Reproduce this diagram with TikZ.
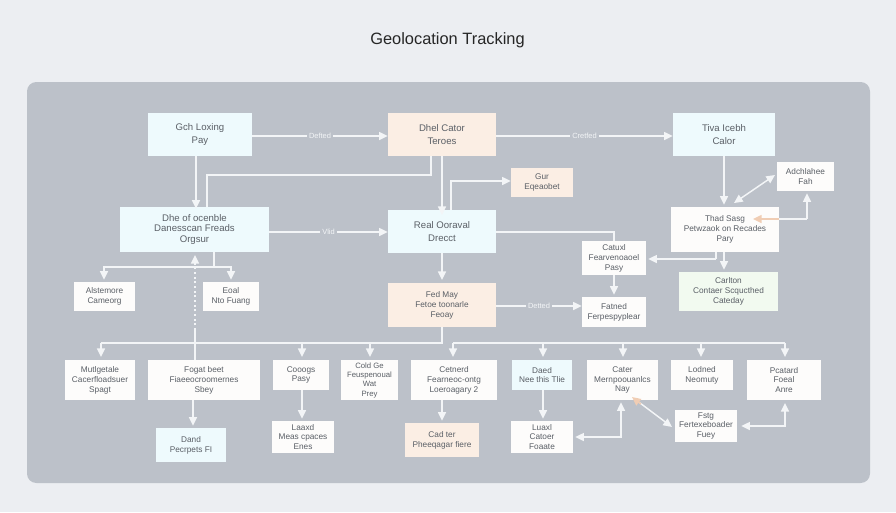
\documentclass[tikz,border=0pt]{standalone}
\usepackage{fontspec}
\setmainfont{Liberation Sans}
\usetikzlibrary{arrows.meta,calc}
\definecolor{pagebg}{HTML}{ECEEF2}
\definecolor{panelbg}{HTML}{BCC1C9}
\definecolor{cyanbox}{HTML}{EEFAFD}
\definecolor{peachbox}{HTML}{FBEEE4}
\definecolor{whitebox}{HTML}{FDFCFB}
\definecolor{greenbox}{HTML}{F2FAF0}
\definecolor{linecol}{HTML}{F3F5F7}
\definecolor{tipcol}{HTML}{F0CDB4}
\definecolor{inkcol}{HTML}{5A5F66}
\tikzset{
  boxbase/.style={inner sep=0pt,align=center,text=inkcol,font=\fontsize{6.2}{7.4}\selectfont},
  big/.style={font=\fontsize{7.2}{9.8}\selectfont},
  bigtight/.style={font=\fontsize{7.2}{7.8}\selectfont},
  cyanb/.style={boxbase,fill=cyanbox},
  peachb/.style={boxbase,fill=peachbox},
  whiteb/.style={boxbase,fill=whitebox},
  greenb/.style={boxbase,fill=greenbox},
  conn/.style={draw=linecol,line width=1.1pt,-{Triangle[length=6.5pt,width=6pt]}},
  both/.style={conn,{Triangle[length=6.5pt,width=6pt]}-{Triangle[length=6.5pt,width=6pt]}},
  plain/.style={draw=linecol,line width=1.1pt},
  peach/.style={draw=tipcol,line width=1.1pt},
  lab/.style={fill=panelbg,inner sep=1.5pt,text=linecol,font=\fontsize{5.6}{6}\selectfont}
}
% name, x1, y1, x2, y2, style, text
\newcommand{\bx}[7]{%
  \pgfmathsetmacro{\bxw}{(#4-#2)*0.75}%
  \pgfmathsetmacro{\bxh}{(#5-#3)*0.75}%
  \node[#6,minimum width=\bxw pt,minimum height=\bxh pt] (#1) at ({(#2+#4)/2},{(#3+#5)/2}) {#7};}
\begin{document}
\begin{tikzpicture}[x=0.75pt,y=-0.75pt]
\useasboundingbox (0,0) rectangle (896,512);
\fill[pagebg] (0,0) rectangle (896,512);
\fill[panelbg,rounded corners=7pt] (27,82) rectangle (870,483);
\node[text=black!85,font=\fontsize{12.3}{14}\selectfont] (title) at (447.5,40.5) {Geolocation Tracking};

\bx{A}{148}{113}{252}{156}{cyanb,big}{Gch Loxing\\Pay}
\bx{B}{388}{113}{496}{156}{peachb,big}{Dhel Cator\\Teroes}
\bx{C}{673}{113}{775}{156}{cyanb,big}{Tiva Icebh\\Calor}
\bx{D}{120}{207}{269}{252}{cyanb,bigtight}{Dhe of ocenble\\Danesscan Freads\\Orgsur}
\bx{E}{388}{210}{496}{253}{cyanb,big}{Real Ooraval\\Drecct}
\bx{F}{511}{168}{573}{197}{peachb}{Gur\\Eqeaobet}
\bx{G}{777}{162}{834}{191}{whiteb}{Adchlahee\\Fah}
\bx{H}{671}{207}{779}{252}{whiteb}{Thad Sasg\\Petwzaok on Recades\\Pary}
\bx{I}{582}{241}{646}{275}{whiteb}{Catuxl\\Fearvenoaoel\\Pasy}
\bx{J}{679}{272}{778}{311}{greenb}{Carlton\\Contaer Scqucthed\\Cateday}
\bx{K}{388}{283}{496}{327}{peachb}{Fed May\\Fetoe toonarle\\Feoay}
\bx{L}{582}{297}{646}{327}{whiteb}{Fatned\\Ferpespyplear}
\bx{M}{74}{282}{135}{311}{whiteb}{Alstemore\\Cameorg}
\bx{N}{203}{282}{259}{311}{whiteb}{Eoal\\Nto Fuang}
\bx{O}{65}{360}{135}{400}{whiteb}{Mutlgetale\\Cacerfloadsuer\\Spagt}
\bx{P}{148}{360}{260}{400}{whiteb}{Fogat beet\\Fiaeeocroomernes\\Sbey}
\bx{Q}{273}{360}{329}{390}{whiteb}{Cooogs\\Pasy}
\bx{R}{341}{360}{398}{400}{whiteb,font=\fontsize{5.8}{7}\selectfont}{Cold Ge\\Feuspenoual\\Wat\\Prey}
\bx{S}{411}{360}{497}{400}{whiteb}{Cetnerd\\Fearneoc-ontg\\Loeroagary 2}
\bx{T}{512}{360}{572}{390}{cyanb}{Daed\\Nee this Tlie}
\bx{U}{587}{360}{658}{400}{whiteb}{Cater\\Mernpoouanlcs\\Nay}
\bx{V}{671}{360}{733}{390}{whiteb}{Lodned\\Neomuty}
\bx{W}{747}{360}{821}{400}{whiteb}{Pcatard\\Foeal\\Anre}
\bx{X}{156}{428}{226}{462}{cyanb}{Dand\\Pecrpets FI}
\bx{Y}{272}{421}{334}{453}{whiteb}{Laaxd\\Meas cpaces\\Enes}
\bx{Z}{405}{423}{479}{457}{peachb}{Cad ter\\Pheeqagar fiere}
\bx{AA}{511}{421}{573}{453}{whiteb}{Luaxl\\Catoer\\Foaate}
\bx{AB}{675}{410}{737}{442}{whiteb}{Fstg\\Fertexeboader\\Fuey}

% top row
\draw[conn] (A.east |- 0,136) -- node[lab] {Defted} (B.west |- 0,136);
\draw[conn] (B.east |- 0,136) -- node[lab] {Cretfed} (C.west |- 0,136);
\draw[conn] (A.south -| 196,0) -- ([yshift=-1.5pt]D.north -| 196,0);
\draw[plain] (B.south -| 431,0) -- (431,175) -- (207,175) -- (D.north -| 207,0);
\draw[conn] (B.south -| 442,0) -- ([yshift=-4pt]E.north -| 442,0);
\draw[conn] (E.north -| 451,0) -- (451,181) -- (F.west |- 0,181);
\draw[conn] (D.east |- 0,232) -- node[lab] {Vlid} (E.west |- 0,232);
% D children
\draw[plain] (D.south -| 214,0) -- (214,267);
\draw[conn] (214,267) -- (104,267) -- ([yshift=1.5pt]M.north -| 104,0);
\draw[conn] (214,267) -- (231,267) -- ([yshift=1.5pt]N.north -| 231,0);
% P to D
\draw[plain] (P.north -| 195,0) -- (195,330);
\draw[draw=linecol,line width=1.1pt,dash pattern=on 1.5pt off 2pt,-{Triangle[length=6.5pt,width=6pt]}] (195,330) -- ([yshift=-2pt]D.south -| 195,0);
% E branch
\draw[conn] (E.south -| 442,0) -- ([yshift=2pt]K.north -| 442,0);
\draw[plain] (E.east |- 0,232) -- (614,232) -- (I.north -| 614,0);
\draw[conn] (I.south -| 614,0) -- ([yshift=1.5pt]L.north -| 614,0);
\draw[conn] (K.east |- 0,306) -- node[lab] {Detted} (L.west |- 0,306);
% right column
\draw[conn] (C.south -| 724,0) -- ([yshift=1.5pt]H.north -| 724,0);
\draw[both] (775,175) -- (734,203);
\draw[peach] (H.east |- 0,219) -- (760,219);
\draw[plain] (H.east |- 0,219) -- (807,219);
\draw[conn] (807,219) -- ([yshift=-1.5pt]G.south -| 807,0);
\draw[peach,-{Triangle[length=6.5pt,width=6pt]},fill=tipcol] (763,219) -- (753,219);
\draw[plain] (H.south -| 716,0) -- (716,259);
\draw[conn] (716,259) -- ([xshift=1.5pt]I.east |- 0,259);
\draw[conn] (H.south -| 724,0) -- ([yshift=1.5pt]J.north -| 724,0);
% bus left
\draw[plain] (K.south -| 442,0) -- (442,343) -- (101,343);
\draw[conn] (101,343) -- ([yshift=2pt]O.north -| 101,0);
\draw[conn] (302,343) -- ([yshift=2pt]Q.north -| 302,0);
\draw[conn] (370,343) -- ([yshift=2pt]R.north -| 370,0);
% bus right
\draw[plain] (453,343) -- (785,343);
\draw[conn] (453,343) -- ([yshift=2pt]S.north -| 453,0);
\draw[conn] (543,343) -- ([yshift=2pt]T.north -| 543,0);
\draw[conn] (623,343) -- ([yshift=2pt]U.north -| 623,0);
\draw[conn] (701,343) -- ([yshift=2pt]V.north -| 701,0);
\draw[conn] (785,343) -- ([yshift=2pt]W.north -| 785,0);
% bottom verticals
\draw[conn] (P.south -| 193,0) -- ([yshift=1.5pt]X.north -| 193,0);
\draw[conn] (Q.south -| 302,0) -- ([yshift=1.5pt]Y.north -| 302,0);
\draw[conn] (S.south -| 442,0) -- ([yshift=1.5pt]Z.north -| 442,0);
\draw[conn] (T.south -| 543,0) -- ([yshift=1.5pt]AA.north -| 543,0);
% bottom cross links
\draw[both] ([xshift=1.5pt]AA.east |- 0,437) -- (621,437) -- ([yshift=-1.5pt]U.south -| 621,0);
\draw[conn] (640,403) -- (672,427);
\draw[peach,-{Triangle[length=6.5pt,width=6pt]},fill=tipcol] (641,404) -- (632,397);
\draw[both] ([xshift=3pt]AB.east |- 0,426) -- (785,426) -- ([yshift=-2pt]W.south -| 785,0);
\end{tikzpicture}
\end{document}
